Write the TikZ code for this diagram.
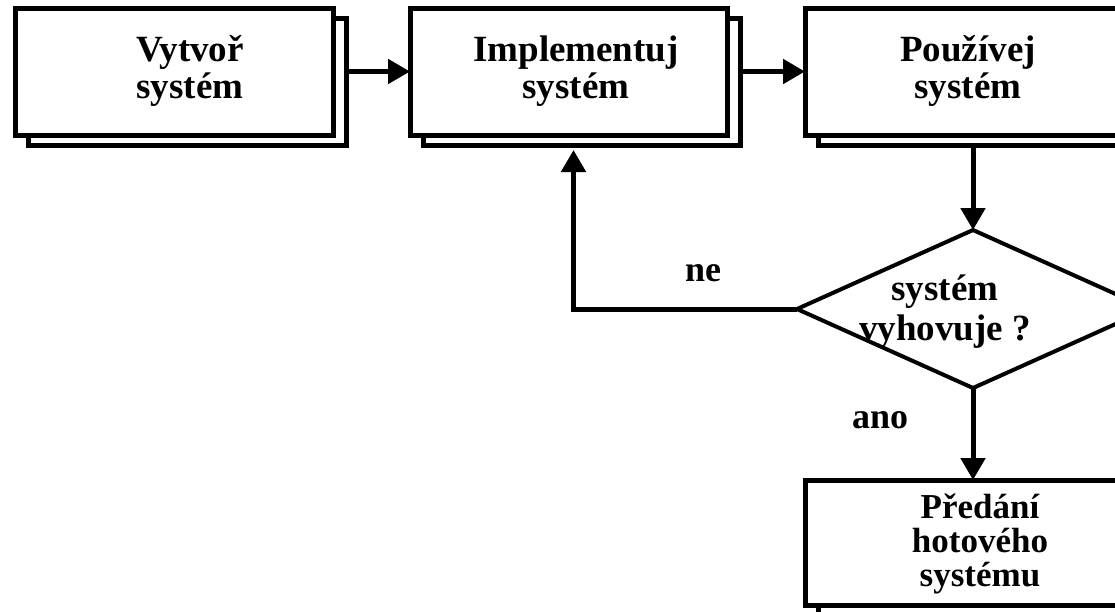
\documentclass[tikz,border=0pt]{standalone}
\usepackage{fontspec}
\setmainfont{Liberation Serif}
\usetikzlibrary{shapes.geometric,shadows,arrows.meta}
\pgfdeclarelayer{background}
\pgfsetlayers{background,main}
\begin{document}
\begin{tikzpicture}[x=1pt,y=-1pt,
  stepbox/.style={draw=black, fill=white, line width=5pt,
    minimum width=#1, minimum height=127pt, inner sep=0pt, outer sep=0pt,
    general shadow={shadow xshift=13pt, shadow yshift=-10pt,
      draw=black, fill=white, line width=5pt}},
  boxtext/.style={align=center, inner sep=0pt,
    font=\fontsize{37}{37}\selectfont\bfseries},
  decision/.style={diamond, draw=black, fill=white, line width=4pt,
    minimum width=352pt, minimum height=158pt, inner sep=0pt, outer sep=0pt},
  edgelabel/.style={inner sep=0pt, font=\fontsize{36}{36}\selectfont\bfseries},
  flow/.style={line width=5pt, -{Triangle[length=22pt,width=24pt]}}
]
\useasboundingbox (0,0) rectangle (1115,611);
\clip (0,0) rectangle (1115,611);

% process boxes with their offset copies
\node[stepbox=318pt] (b1) at (174,71.5) {};
\node[stepbox=317pt] (b2) at (568.5,71.5) {};
\node[stepbox=336pt] (b3) at (973,71.5) {};
\node[stepbox=336pt, minimum height=125pt] (b4) at (973,542.5) {};

% decision
\node[decision] (d) at (973,309) {};

% texts
\node[boxtext] (t1) at (190,71) {Vytvoř\\systém};
\node[boxtext] (t2) at (576,71) {Implementuj\\systém};
\node[boxtext] (t3) at (968,71) {Používej\\systém};
\node[boxtext, font=\fontsize{35}{34}\selectfont\bfseries] (t4) at (980,544) {Předání\\hotového\\systému};
\node[boxtext, font=\fontsize{37}{40}\selectfont\bfseries] (dt) at (945,312) {systém\\vyhovuje ?};

\node[edgelabel] (ne) at (703,273) {ne};
\node[edgelabel] (ano) at (880,420) {ano};

% connectors, kept behind the boxes
\begin{pgfonlayer}{background}
  \draw[flow] (b1.east) -- (b2.west);
  \draw[flow] (b2.east) -- (b3.west);
  \draw[flow] (b3.south) -- (d.north);
  \draw[flow] (d.south) -- (b4.north);
  \draw[flow, shorten >=15pt] (d.west) -| ([xshift=5pt]b2.south);
\end{pgfonlayer}
\end{tikzpicture}
\end{document}
